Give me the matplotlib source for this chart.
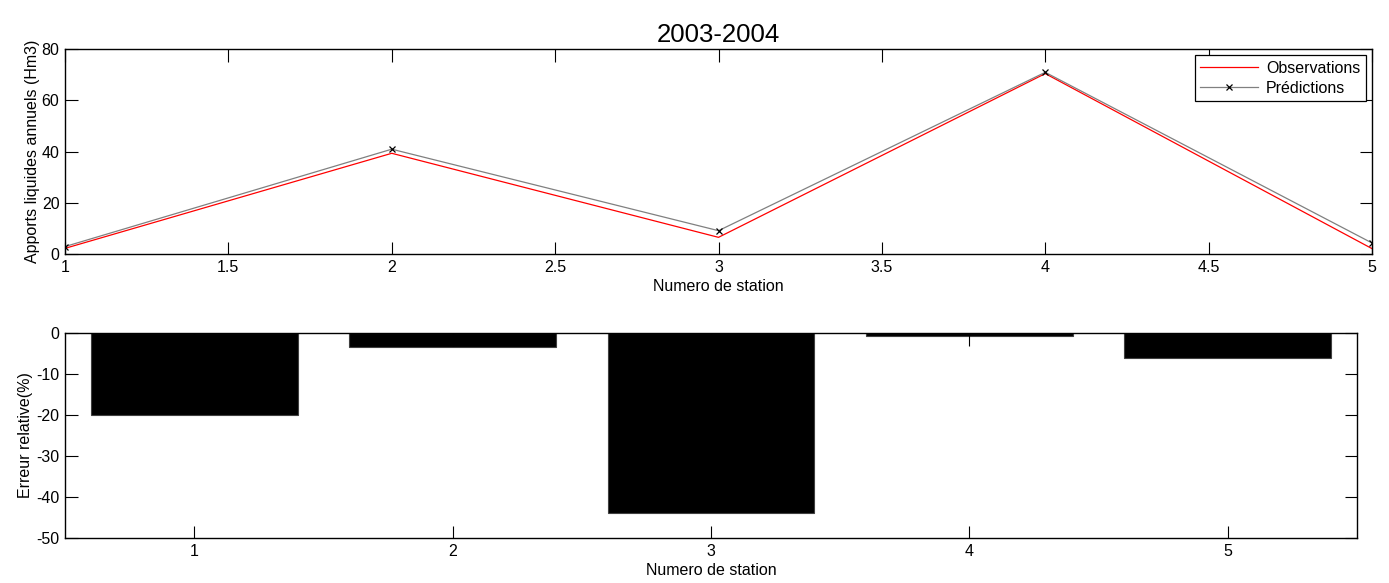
import matplotlib
matplotlib.use("Agg")
import matplotlib.pyplot as plt

plt.rcParams['font.family'] = ['Liberation Sans', 'DejaVu Sans']
plt.rcParams['axes.unicode_minus'] = False

stations = [1, 2, 3, 4, 5]
observations = [2.2, 39.3, 6.5, 70.4, 2.1]
predictions = [2.9, 40.9, 9.1, 70.9, 4.3]
erreur_relative = [-20.0, -3.3, -43.9, -0.65, -6.1]

top_xticks = [1, 1.5, 2, 2.5, 3, 3.5, 4, 4.5, 5]
top_xticklabels = ['1', '1.5', '2', '2.5', '3', '3.5', '4', '4.5', '5']
top_yticks = [0, 20, 40, 60, 80]
bot_yticks = [-50, -40, -30, -20, -10, 0]

W, H = 1389, 583
fig = plt.figure(figsize=(W / 100, H / 100), dpi=100)

def box(l, t, r, b):
    return [l / W, 1 - b / H, (r - l) / W, (b - t) / H]

ax1 = fig.add_axes(box(65, 49, 1372, 254))
ax1.plot(stations, observations, color='red', lw=0.9, label='Observations')
ax1.plot(stations, predictions, color='#808080', lw=0.9, marker='x',
         markersize=5, markeredgecolor='black', markeredgewidth=0.9,
         label='Prédictions')
ax1.set_xlim(1, 5)
ax1.set_ylim(0, 80)
ax1.set_xticks(top_xticks)
ax1.set_xticklabels(top_xticklabels)
ax1.set_yticks(top_yticks)
ax1.set_xlabel('Numero de station', fontsize=11.5, labelpad=3)
ax1.set_ylabel('Apports liquides annuels (Hm3)', fontsize=11.5, labelpad=1)
ax1.set_title('2003-2004', fontsize=18.5, pad=5)
leg = ax1.legend(loc='upper right', fontsize=11.5, frameon=True, fancybox=False,
                 edgecolor='black', framealpha=1, borderaxespad=0.4,
                 handlelength=3.6, handletextpad=0.5, borderpad=0.35,
                 labelspacing=0.3)
leg.get_frame().set_linewidth(0.9)

ax2 = fig.add_axes(box(65, 333, 1357, 538))
ax2.bar(stations, erreur_relative, width=0.8, color='black',
        edgecolor='#404040', linewidth=0.8)
ax2.set_xlim(0.5, 5.5)
ax2.set_ylim(-50, 0)
ax2.set_xticks(stations)
ax2.set_yticks(bot_yticks)
ax2.set_xlabel('Numero de station', fontsize=11.5, labelpad=3)
ax2.set_ylabel('Erreur relative(%)', fontsize=11.5, labelpad=2)

for ax in (ax1, ax2):
    ax.tick_params(direction='in', length=9, width=0.8, top=True, right=True,
                   labelsize=11.5, pad=4, colors='black')
    for s in ax.spines.values():
        s.set_linewidth(1.0)
        s.set_color('black')

fig.savefig('out.png', dpi=100, facecolor='white')
